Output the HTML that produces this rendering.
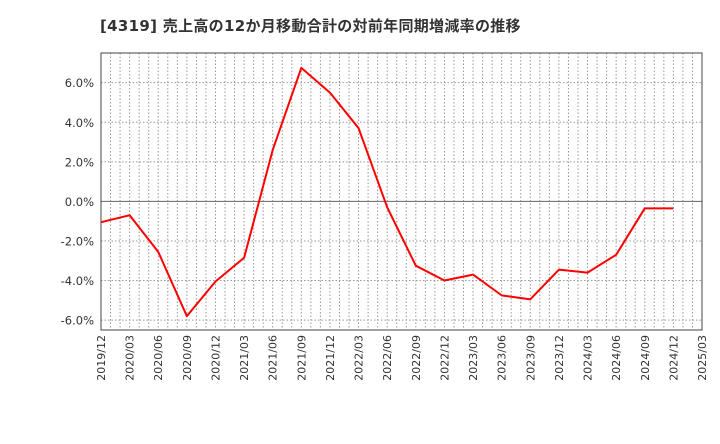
<!DOCTYPE html>
<html><head><meta charset="utf-8"><style>
body{margin:0;background:#fff;font-family:"DejaVu Sans","Noto Sans CJK JP",sans-serif}
svg text{font-family:"DejaVu Sans","Noto Sans CJK JP",sans-serif}
</style></head><body>
<svg id="c" width="720" height="440" xmlns="http://www.w3.org/2000/svg">
<text x="100" y="31" font-size="15" font-weight="bold" fill="#333" letter-spacing="0.3">[4319]  売上高の12か月移動合計の対前年同期増減率の推移</text>
<g id="grid"></g><g id="axes"></g><g id="series"></g>
</svg>
<script>
const categories=["2019/12","2020/03","2020/06","2020/09","2020/12","2021/03","2021/06","2021/09","2021/12","2022/03","2022/06","2022/09","2022/12","2023/03","2023/06","2023/09","2023/12","2024/03","2024/06","2024/09","2024/12","2025/03"];
const values=[-1.05,-0.7,-2.55,-5.8,-4.05,-2.85,2.6,6.75,5.5,3.7,-0.3,-3.25,-4.0,-3.7,-4.75,-4.95,-3.45,-3.6,-2.7,-0.35,-0.35];
const yTicks=[-6,-4,-2,0,2,4,6];
const L=101,R=702,T=53,B=330,yMin=-6.5,yMax=7.5;
const ns="http://www.w3.org/2000/svg";
const nQ=categories.length-1;
const x=i=>L+(R-L)*i/nQ;
const y=v=>T+(yMax-v)/(yMax-yMin)*(B-T);
function mk(tag,attrs,parent){const e=document.createElementNS(ns,tag);for(const k in attrs)e.setAttribute(k,attrs[k]);document.getElementById(parent).appendChild(e);return e;}
for(let m=1;m<nQ*3;m++){const xx=L+(R-L)*m/(nQ*3);
const g=mk("line",{x1:xx,x2:xx,y1:T,y2:B,stroke:"#999","stroke-dasharray":"1.5,2","stroke-width":1},"grid");

}
yTicks.forEach(t=>{const yy=y(t);
const g=mk("line",{x1:L,x2:R,y1:yy,y2:yy,stroke:t===0?"#666":"#999","stroke-dasharray":t===0?"none":"1.5,2","stroke-width":1},"grid");


const lb=mk("text",{x:L-7,y:yy+4.5,"text-anchor":"end","font-size":11.5,fill:"#333"},"axes");
lb.textContent=t.toFixed(1)+"%";

});
categories.forEach((c,i)=>{const xx=x(i);
const lb=mk("text",{transform:`translate(${xx+4},${B+5}) rotate(-90)`,"text-anchor":"end","font-size":11,fill:"#333"},"axes");
lb.textContent=c;

});
const fr=mk("rect",{x:L,y:T,width:R-L,height:B-T,fill:"none",stroke:"#444","stroke-width":1},"axes");


const ln=mk("polyline",{points:values.map((v,i)=>x(i)+","+y(v)).join(" "),fill:"none",stroke:"#f00","stroke-width":2,"stroke-linejoin":"round"},"series");


</script>
</body></html>
